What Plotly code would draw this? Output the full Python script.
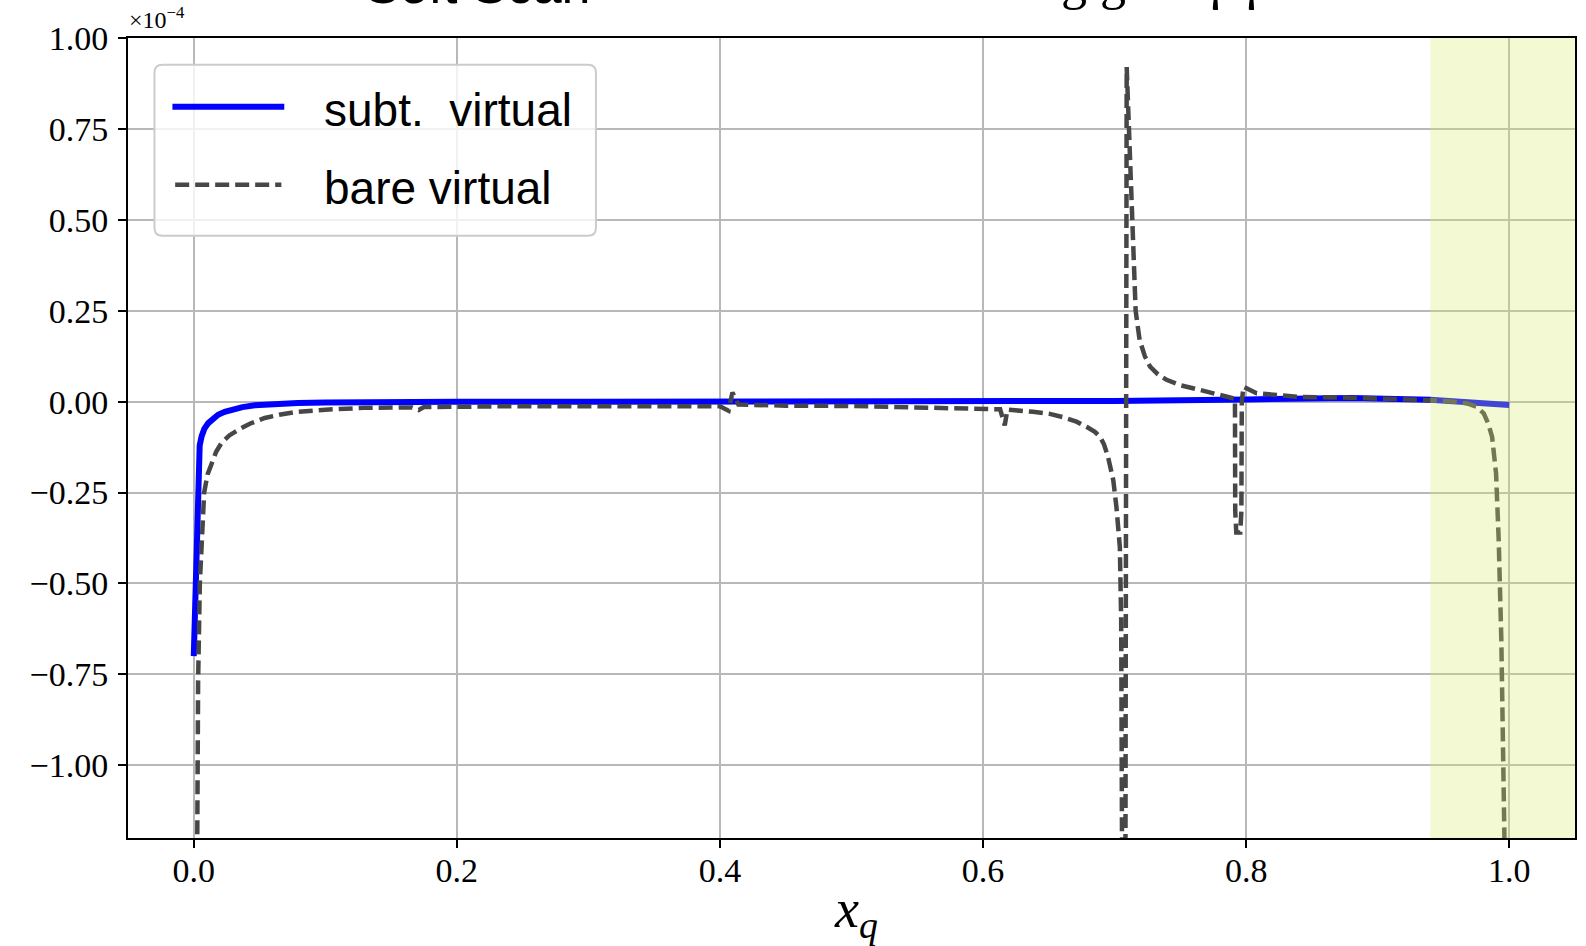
import plotly.graph_objects as go

# ---- data (values in units of 1e-4) ----
x_subt = [0.0, 0.0017, 0.0033, 0.0045, 0.006, 0.008, 0.011, 0.0145, 0.0185, 0.0235,
          0.0287, 0.037, 0.0465, 0.06, 0.079, 0.1, 0.13, 0.2, 0.3, 0.4,
          0.5, 0.6, 0.7, 0.8, 0.88, 0.94, 0.97, 1.0]
y_subt = [-0.70, -0.43, -0.16, -0.12, -0.095, -0.075, -0.059, -0.046, -0.036, -0.028,
          -0.022, -0.015, -0.010, -0.0065, -0.0037, -0.0025, -0.001, -0.0005, 0.0, 0.0,
          0.0, 0.0005, 0.002, 0.006, 0.010, 0.005, 0.0, -0.009]

x_bare = [0.0025, 0.0033, 0.0046, 0.0079, 0.0105, 0.0135, 0.017, 0.021, 0.027, 0.034,
          0.043, 0.054, 0.065, 0.079, 0.1, 0.13, 0.166, 0.171, 0.175, 0.232,
          0.3, 0.4, 0.4065, 0.4095, 0.414, 0.45, 0.5, 0.55, 0.6, 0.613,
          0.6165, 0.6185, 0.638, 0.65, 0.661, 0.671, 0.679, 0.685, 0.689, 0.692,
          0.695, 0.697, 0.699, 0.7014, 0.703, 0.704, 0.705, 0.7055, 0.7075, 0.7092,
          0.711, 0.713, 0.716, 0.719, 0.723, 0.727, 0.733, 0.7395, 0.75, 0.765,
          0.775, 0.788, 0.7915, 0.7917, 0.7925, 0.7955, 0.7964, 0.7967, 0.798, 0.808,
          0.841, 0.88, 0.92, 0.94, 0.955, 0.968, 0.975, 0.9806, 0.984, 0.987,
          0.990, 0.992, 0.994, 0.9955, 0.9964, 0.997]
y_bare = [-1.30, -0.77, -0.50, -0.25, -0.20, -0.169, -0.138, -0.114, -0.093, -0.077,
          -0.060, -0.045, -0.036, -0.028, -0.022, -0.017, -0.016, -0.023, -0.015, -0.013,
          -0.014, -0.013, -0.025, 0.025, -0.008, -0.011, -0.012, -0.015, -0.020, -0.021,
          -0.065, -0.022, -0.028, -0.033, -0.043, -0.055, -0.070, -0.083, -0.097, -0.118,
          -0.152, -0.18, -0.216, -0.29, -0.35, -0.40, -0.60, -1.30, -3.0, 0.92,
          0.75, 0.50, 0.25, 0.17, 0.125, 0.096, 0.075, 0.060, 0.045, 0.032,
          0.023, 0.0135, 0.008, -0.30, -0.36, -0.36, -0.30, 0.0, 0.041, 0.023,
          0.013, 0.011, 0.008, 0.004, 0.001, -0.005, -0.014, -0.032, -0.06, -0.097,
          -0.198, -0.38, -0.655, -0.93, -1.197, -1.35]

x_ticks = [0.0, 0.2, 0.4, 0.6, 0.8, 1.0]
x_tick_labels = ["0.0", "0.2", "0.4", "0.6", "0.8", "1.0"]
y_ticks = [-1.0, -0.75, -0.5, -0.25, 0.0, 0.25, 0.5, 0.75, 1.0]
y_tick_labels = ["\u22121.00", "\u22120.75", "\u22120.50", "\u22120.25", "0.00",
                 "0.25", "0.50", "0.75", "1.00"]
x_range = [-0.05, 1.05]
y_range = [-1.2, 1.0]
band = [0.94, 1.05]
series_names = ["subt.  virtual", "bare virtual"]

# ---- figure ----
fig = go.Figure()
fig.add_trace(go.Scatter(x=x_subt, y=y_subt, mode="lines", name=series_names[0],
                         line=dict(color="#0000ff", width=6), hoverinfo="skip"))
fig.add_trace(go.Scatter(x=x_bare, y=y_bare, mode="lines", name=series_names[1],
                         line=dict(color="#474747", width=4.5, dash="14px,6px"),
                         hoverinfo="skip"))

serif = "Liberation Serif"
axis_common = dict(showgrid=True, gridcolor="#b8b8b8", gridwidth=1.5,
                   showline=True, linecolor="black", linewidth=2, mirror=True,
                   ticks="outside", ticklen=8, tickwidth=1.5, tickcolor="black",
                   tickfont=dict(family=serif, size=34, color="black"),
                   zeroline=False)

fig.update_layout(
    width=1586, height=946, autosize=False,
    margin=dict(l=128, r=9, t=38, b=108, pad=0),
    paper_bgcolor="white", plot_bgcolor="white",
    showlegend=False,
    xaxis=dict(range=x_range, tickvals=x_ticks, ticktext=x_tick_labels,
               ticklabelstandoff=-7, **axis_common),
    yaxis=dict(range=y_range, tickvals=y_ticks, ticktext=y_tick_labels,
               ticklabelstandoff=3, **axis_common),
)

# shaded band (drawn over the curves, semi-transparent)
fig.add_shape(type="rect", xref="x", yref="paper", x0=band[0], x1=band[1], y0=0, y1=1,
              fillcolor="rgba(215,235,110,0.30)", line=dict(width=0), layer="above")

# ---- legend box (matplotlib style) ----
x0, x1, y0, y1 = 0.0183, 0.3234, 0.7527, 0.9667
rx, ry = 0.0055, 0.010
path = (f"M {x0+rx},{y0} L {x1-rx},{y0} Q {x1},{y0} {x1},{y0+ry} L {x1},{y1-ry} "
        f"Q {x1},{y1} {x1-rx},{y1} L {x0+rx},{y1} Q {x0},{y1} {x0},{y1-ry} "
        f"L {x0},{y0+ry} Q {x0},{y0} {x0+rx},{y0} Z")
fig.add_shape(type="path", xref="paper", yref="paper", path=path,
              fillcolor="rgba(255,255,255,0.8)", line=dict(color="#cccccc", width=2),
              layer="above")
fig.add_shape(type="line", xref="paper", yref="paper", x0=0.0307, x1=0.108,
              y0=0.9142, y1=0.9142, line=dict(color="#0000ff", width=6), layer="above")
fig.add_shape(type="line", xref="paper", yref="paper", x0=0.0326, x1=0.1060,
              y0=0.8165, y1=0.8165, line=dict(color="#474747", width=4.5, dash="14px,6px"),
              layer="above")
sans = "Liberation Sans"
fig.add_annotation(xref="paper", yref="paper", x=0.1343, y=0.9100, xanchor="left",
                   yanchor="middle", text=series_names[0], showarrow=False,
                   font=dict(family=sans, size=46, color="black"))
fig.add_annotation(xref="paper", yref="paper", x=0.1343, y=0.8130, xanchor="left",
                   yanchor="middle", text=series_names[1], showarrow=False,
                   font=dict(family=sans, size=46, color="black"))

# offset text and axis label
fig.add_annotation(xref="paper", yref="paper", x=-0.001, y=1.004, xanchor="left",
                   yanchor="bottom", text="\u00d710<sup>\u22124</sup>", showarrow=False,
                   font=dict(family=serif, size=24, color="black"))
fig.add_annotation(xref="paper", yref="paper", x=0.503, y=-0.093, xanchor="center",
                   yanchor="middle", text="<i>x</i><sub><i>q</i></sub>", showarrow=False,
                   font=dict(family=serif, size=54, color="black"))

# clipped title fragments at the top of the page
fig.add_annotation(xref="paper", yref="paper", x=(478 - 128.5) / 1448.5, y=1.066,
                   xanchor="center", yanchor="middle", text="Soft Scan", showarrow=False,
                   font=dict(family=sans, size=52, color="black"))
fig.add_annotation(xref="paper", yref="paper", x=(1186 - 128.5) / 1448.5, y=1.070,
                   xanchor="center", yanchor="middle", text="g g \u2192 \u03b3 \u03b3 Z",
                   showarrow=False, font=dict(family=serif, size=52, color="black"))
# page number fragment
fig.add_annotation(xref="paper", yref="paper", x=(1583 - 128.5) / 1448.5, y=-0.148,
                   xanchor="center", yanchor="middle", text="3", showarrow=False,
                   font=dict(family=serif, size=30, color="black"))

fig.write_html("out.html")
